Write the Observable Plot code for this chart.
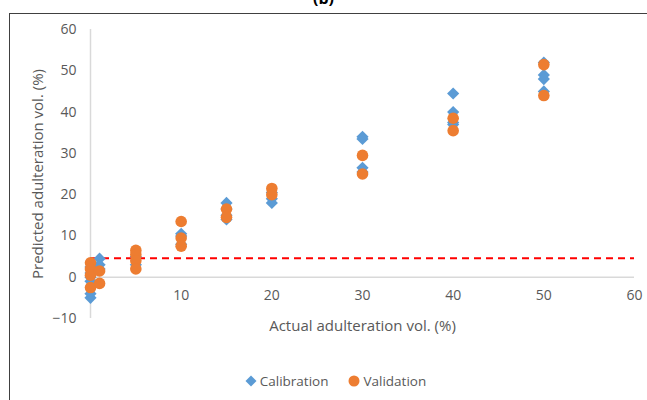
<!DOCTYPE html>
<html><head><meta charset="utf-8">
<script src="https://cdn.jsdelivr.net/npm/d3@7"></script>
<script src="https://cdn.jsdelivr.net/npm/@observablehq/plot@0.6"></script>
<style>
html,body{margin:0;padding:0;background:#fff;overflow:hidden;}
#wrap{position:relative;width:647px;height:400px;font-family:"Open Sans",Lato,sans-serif;}
#frame{position:absolute;left:9px;top:13px;width:700px;height:500px;border:1.5px solid #404040;box-sizing:border-box;}
#title{position:absolute;left:0;width:647px;top:-13px;text-align:center;font-weight:bold;font-size:16px;color:#000;}
#chart{position:absolute;left:0;top:0;}
#legend{position:absolute;top:372px;left:0;width:647px;display:flex;justify-content:center;gap:20px;font-size:13.5px;color:#595959;margin-left:12px;}
#legend span{display:flex;align-items:center;gap:3px;}
</style></head>
<body><div id="wrap"><div id="frame"></div><div id="title">(b)</div><div id="chart"></div><div id="legend"></div></div>
<script>
const calX = [0,0,0,0,0,0, 1,1,1, 5,5, 10,10,10, 15,15,15,15, 20,20,20, 30,30,30,30, 40,40,40,40, 50,50,50,50];
const calY = [-5,-4,-1,0,1,2.5, 4.5,3,2, 3,5, 10.5,10,8, 18,16.5,15,14, 19,18,20.5, 34,33.5,26.5,25.5, 44.5,40,37.5,37, 52,49,48,45];
const valX = [0,0,0,0, 1,1, 5,5,5,5, 10,10,10, 15,15, 20,20, 30,30, 40,40, 50,50];
const valY = [3.5,2,0.5,-2.5, 1.5,-1.5, 6.5,5.5,4,2, 13.5,9.5,7.5, 16.5,14.5, 21.5,20, 29.5,25, 38.5,35.5, 51.5,44];
const limitY = 4.6;
const xTicks = [0,10,20,30,40,50,60];
const yTicks = [-10,0,10,20,30,40,50,60];
const seriesNames = ["Calibration","Validation"];
const seriesColors = ["#5B9BD5","#ED7D31"];

const cal = calX.map((x,i)=>({x, y: calY[i]}));
const val = valX.map((x,i)=>({x, y: valY[i]}));

const chart = Plot.plot({
  width: 647, height: 345,
  marginLeft: 90, marginRight: 13, marginTop: 29, marginBottom: 27,
  style: {fontFamily: "'Open Sans', Lato, sans-serif", fontSize: "14px", color: "#595959", background: "transparent", overflow: "visible"},
  x: {domain: [0,60]},
  y: {domain: [-10,60]},
  marks: [
    Plot.ruleY([0], {x1: 0, x2: 60, stroke: "#d9d9d9", strokeWidth: 1.5}),
    Plot.ruleX([0], {y1: -10, y2: 60, stroke: "#d9d9d9", strokeWidth: 1.5}),
    Plot.axisY({ticks: yTicks, tickSize: 0, tickPadding: 14, label: null, fill: "#595959"}),
    Plot.axisX({ticks: xTicks, tickSize: 0, tickPadding: 0, dy: -28, label: null, fill: "#595959"}),
    Plot.text(["Predicted adulteration vol. (%)"], {frameAnchor: "left", textAnchor: "middle", dx: -52, rotate: -90, fontSize: 15, fill: "#595959"}),
    Plot.text(["Actual adulteration vol. (%)"], {frameAnchor: "bottom", dy: 12, fontSize: 15, fill: "#595959"}),
    Plot.ruleY([limitY], {x1: 0, x2: 60, stroke: "#FF0000", strokeWidth: 2, strokeDasharray: "7,5"}),
    Plot.dot(cal, {x: "x", y: "y", symbol: "diamond2", r: 5.5, fill: seriesColors[0], stroke: "none"}),
    Plot.dot(val, {x: "x", y: "y", symbol: "circle", r: 5.8, fill: seriesColors[1], stroke: "none"})
  ]
});
document.getElementById("chart").appendChild(chart);

const leg = document.getElementById("legend");
seriesNames.forEach((n,i)=>{
  const s = document.createElement("span");
  const shape = i===0
    ? `<svg width="12" height="12"><path d="M6,0.5L11.5,6L6,11.5L0.5,6Z" fill="${seriesColors[0]}"/></svg>`
    : `<svg width="12" height="12"><circle cx="6" cy="6" r="5.5" fill="${seriesColors[1]}"/></svg>`;
  s.innerHTML = shape + `<span>${n}</span>`;
  leg.appendChild(s);
});
</script></body></html>
